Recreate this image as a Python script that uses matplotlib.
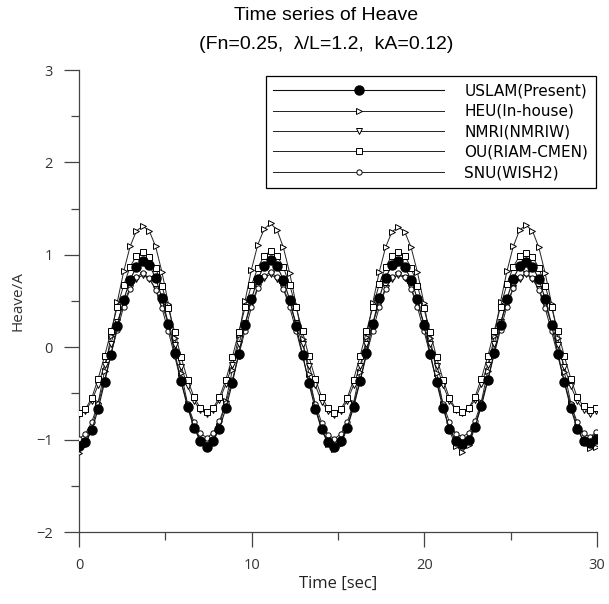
import matplotlib
matplotlib.use('Agg')
import matplotlib.pyplot as plt
from matplotlib.ticker import MultipleLocator

# sample times (s), shared by all series
time_s = [round(0.37 * k, 2) for k in range(82)]

uslam = [-1.07, -1.03, -0.90, -0.67, -0.38, -0.08, 0.23, 0.51, 0.73, 0.87, 0.93, 0.89, 0.75, 0.53, 0.25, -0.06, -0.37, -0.65, -0.87, -1.01,
         -1.08, -1.02, -0.88, -0.66, -0.39, -0.07, 0.24, 0.52, 0.74, 0.88, 0.94, 0.88, 0.73, 0.51, 0.23, -0.08, -0.39, -0.67, -0.89, -1.03,
         -1.08, -1.01, -0.87, -0.65, -0.37, -0.06, 0.25, 0.53, 0.75, 0.89, 0.93, 0.87, 0.73, 0.52, 0.24, -0.07, -0.38, -0.66, -0.88, -1.02,
         -1.05, -1.00, -0.86, -0.64, -0.36, -0.06, 0.24, 0.52, 0.74, 0.88, 0.92, 0.87, 0.74, 0.52, 0.24, -0.07, -0.38, -0.66, -0.88, -1.01,
         -1.04, -0.99]
heu = [-1.14, -1.06, -0.88, -0.60, -0.26, 0.12, 0.49, 0.82, 1.09, 1.26, 1.31, 1.26, 1.09, 0.81, 0.47, 0.10, -0.28, -0.61, -0.86, -1.02,
       -1.05, -1.01, -0.85, -0.58, -0.25, 0.13, 0.50, 0.84, 1.11, 1.28, 1.34, 1.27, 1.08, 0.80, 0.46, 0.09, -0.29, -0.63, -0.89, -1.05,
       -1.10, -1.05, -0.88, -0.60, -0.27, 0.11, 0.48, 0.81, 1.08, 1.25, 1.30, 1.25, 1.08, 0.81, 0.48, 0.10, -0.28, -0.62, -0.90, -1.07,
       -1.13, -1.06, -0.87, -0.59, -0.26, 0.12, 0.49, 0.82, 1.09, 1.27, 1.32, 1.26, 1.08, 0.80, 0.47, 0.10, -0.27, -0.60, -0.86, -1.03,
       -1.09, -1.08]
nmri = [-0.72, -0.69, -0.58, -0.41, -0.19, 0.04, 0.27, 0.48, 0.64, 0.74, 0.78, 0.74, 0.63, 0.46, 0.25, 0.02, -0.21, -0.42, -0.58, -0.68,
        -0.72, -0.68, -0.57, -0.40, -0.19, 0.03, 0.26, 0.47, 0.65, 0.75, 0.79, 0.74, 0.64, 0.47, 0.26, 0.03, -0.20, -0.41, -0.59, -0.69,
        -0.73, -0.69, -0.58, -0.41, -0.20, 0.03, 0.26, 0.47, 0.64, 0.74, 0.78, 0.75, 0.64, 0.47, 0.26, 0.03, -0.20, -0.41, -0.58, -0.68,
        -0.71, -0.67, -0.57, -0.40, -0.19, 0.04, 0.27, 0.47, 0.64, 0.74, 0.79, 0.74, 0.63, 0.46, 0.25, 0.02, -0.21, -0.42, -0.58, -0.68,
        -0.72, -0.69]
ou = [-0.71, -0.67, -0.55, -0.34, -0.10, 0.17, 0.44, 0.67, 0.87, 0.99, 1.03, 0.98, 0.86, 0.66, 0.42, 0.16, -0.11, -0.35, -0.54, -0.66,
      -0.70, -0.66, -0.54, -0.35, -0.11, 0.16, 0.43, 0.67, 0.86, 0.99, 1.04, 0.99, 0.87, 0.67, 0.43, 0.17, -0.10, -0.34, -0.54, -0.66,
      -0.71, -0.67, -0.55, -0.35, -0.10, 0.17, 0.43, 0.68, 0.87, 0.99, 1.03, 0.99, 0.86, 0.66, 0.42, 0.16, -0.11, -0.35, -0.55, -0.67,
      -0.70, -0.66, -0.54, -0.34, -0.10, 0.17, 0.44, 0.68, 0.87, 0.99, 1.02, 0.98, 0.86, 0.66, 0.43, 0.17, -0.10, -0.34, -0.54, -0.64,
      -0.68, -0.66]
snu = [-0.99, -0.94, -0.81, -0.61, -0.36, -0.08, 0.19, 0.44, 0.63, 0.76, 0.80, 0.75, 0.62, 0.42, 0.17, -0.10, -0.38, -0.62, -0.81, -0.93,
       -0.98, -0.93, -0.80, -0.60, -0.36, -0.09, 0.18, 0.43, 0.64, 0.77, 0.81, 0.76, 0.63, 0.43, 0.18, -0.09, -0.37, -0.61, -0.82, -0.95,
       -0.99, -0.94, -0.81, -0.61, -0.37, -0.09, 0.18, 0.43, 0.63, 0.76, 0.80, 0.76, 0.63, 0.43, 0.18, -0.09, -0.37, -0.61, -0.81, -0.94,
       -0.97, -0.93, -0.80, -0.60, -0.36, -0.08, 0.19, 0.44, 0.64, 0.76, 0.80, 0.75, 0.62, 0.42, 0.17, -0.10, -0.38, -0.62, -0.81, -0.93,
       -0.97, -0.92]

labels = ['USLAM(Present)', 'HEU(In-house)', 'NMRI(NMRIW)', 'OU(RIAM-CMEN)', 'SNU(WISH2)']
series = [uslam, heu, nmri, ou, snu]
markers = ['o', '>', 'v', 's', 'o']

fig = plt.figure(figsize=(6.09, 6.04), dpi=100)
ax = fig.add_axes([0.1297, 0.1192, 0.8503, 0.7649])

for lab, ys, mk in zip(labels, series, markers):
    if lab.startswith('USLAM'):
        ax.plot(time_s, ys, color='#111111', lw=0.8, marker=mk, ms=6.5,
                mfc='black', mec='black', label=lab, zorder=4)
    else:
        ax.plot(time_s, ys, color='#222222', lw=0.7, marker=mk, ms=3.8,
                mfc='white', mec='black', mew=0.7, label=lab, zorder=3)

ax.set_xlim(0, 30)
ax.set_ylim(-2, 3)
ax.xaxis.set_major_locator(MultipleLocator(10))
ax.xaxis.set_minor_locator(MultipleLocator(5))
ax.yaxis.set_major_locator(MultipleLocator(1))
ax.yaxis.set_minor_locator(MultipleLocator(0.5))

for s in ['top', 'right']:
    ax.spines[s].set_visible(False)
for s in ['left', 'bottom']:
    ax.spines[s].set_color('#444444')
    ax.spines[s].set_linewidth(0.9)
ax.tick_params(which='major', direction='out', length=11, width=0.9, color='#444444',
               labelsize=10.5, labelcolor='#333333', pad=8)
ax.tick_params(which='minor', direction='out', length=6, width=0.9, color='#444444')
for t in ax.get_xticklabels() + ax.get_yticklabels():
    t.set_family('Open Sans')

ax.set_xlabel('Time [sec]', fontsize=12, family='Open Sans', color='#222222', labelpad=2)
ylab = ax.set_ylabel('Heave/A', fontsize=11, family='Open Sans', color='#333333')
ylab.set_va('center')
ax.yaxis.set_label_coords(-0.118, 0.5)

fig.text(0.535, 0.988, 'Time series of Heave\n(Fn=0.25,  \u03bb/L=1.2,  kA=0.12)',
         ha='center', va='top', fontsize=14, family='Liberation Sans', linespacing=1.9)

leg = ax.legend(loc='upper right', bbox_to_anchor=(0.998, 0.987), fancybox=False,
                edgecolor='black', framealpha=1, prop={'family': 'DejaVu Sans', 'size': 11},
                handlelength=11.2, handletextpad=1.3, labelspacing=0.35, borderpad=0.5,
                borderaxespad=0)
leg.get_frame().set_linewidth(0.9)

fig.savefig('out.png', dpi=100)
